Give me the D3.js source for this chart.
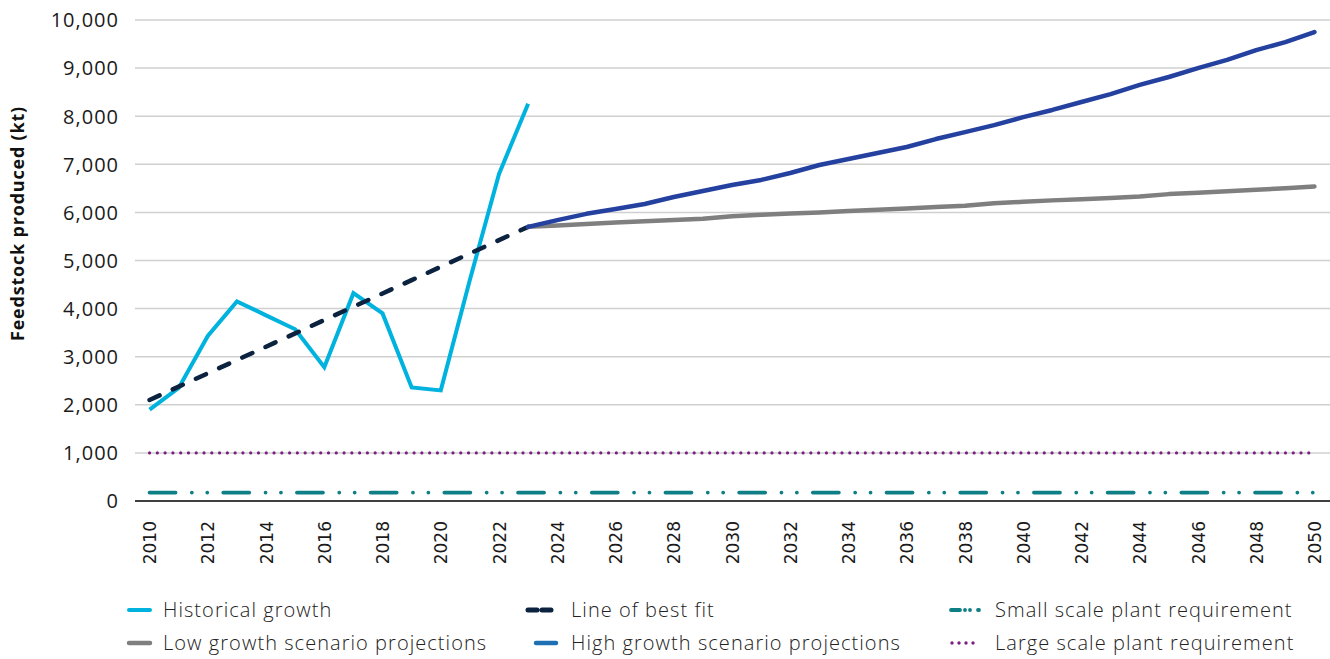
<!DOCTYPE html>
<html>
<head>
<meta charset="utf-8">
<script src="https://cdn.jsdelivr.net/npm/d3@7"></script>
<style>
  body { margin: 0; background: #fff; }
  svg { display: block; }
</style>
</head>
<body>
<svg id="chart" width="1330" height="659"></svg>
<script>
// ---------- DATA ----------
const years = d3.range(2010, 2051);
const yTicks = [0, 1000, 2000, 3000, 4000, 5000, 6000, 7000, 8000, 9000, 10000];
const xTickYears = d3.range(2010, 2051, 2);

const historicalYears = [2010, 2011, 2012, 2013, 2014, 2015, 2016, 2017, 2018, 2019, 2020, 2021, 2022, 2023];
const historicalValues = [1900, 2350, 3430, 4150, 3860, 3570, 2780, 4320, 3900, 2360, 2300, 4600, 6800, 8260];

const bestFitYears = [2010, 2011, 2012, 2013, 2014, 2015, 2016, 2017, 2018, 2019, 2020, 2021, 2022, 2023];
const bestFitValues = [2100, 2377, 2654, 2931, 3208, 3485, 3762, 4038, 4315, 4592, 4869, 5146, 5423, 5700];

const projYears = d3.range(2023, 2051);
const lowGrowthValues = [5700, 5730, 5760, 5790, 5815, 5840, 5870, 5920, 5950, 5975, 6000, 6030, 6055, 6080,
  6110, 6140, 6190, 6220, 6250, 6275, 6300, 6330, 6380, 6410, 6440, 6470, 6500, 6540];
const highGrowthValues = [5700, 5840, 5970, 6070, 6175, 6320, 6445, 6570, 6675, 6820, 6985, 7110, 7235, 7360,
  7525, 7670, 7815, 7980, 8130, 8295, 8460, 8650, 8815, 9000, 9170, 9375, 9540, 9750];

const smallScaleValue = 175;
const largeScaleValue = 1000;

const legendLabels = [
  "Historical growth", "Line of best fit", "Small scale plant requirement",
  "Low growth scenario projections", "High growth scenario projections", "Large scale plant requirement"
];

// ---------- STYLES ----------
const C = {
  hist: "#00B2DE", fit: "#0C2340", high: "#2541A0", highLegend: "#1F6FB4", low: "#7F7F7F",
  small: "#0F7F86", large: "#7A2180", grid: "#D0D0D0"
};

const svg = d3.select("#chart");
const mLeft = 135, mRight = 1329, mTop = 20, mBottom = 501;

const x = d3.scalePoint().domain(years).range([mLeft, mRight]).padding(0.5);
const y = d3.scaleLinear().domain([0, 10000]).range([mBottom, mTop]);

// gridlines
svg.append("g").selectAll("line").data(yTicks.filter(d => d > 0)).join("line")
  .attr("x1", mLeft).attr("x2", 1330)
  .attr("y1", d => y(d)).attr("y2", d => y(d))
  .attr("stroke", C.grid).attr("stroke-width", 1.5);

// y axis labels
const yAxis = d3.axisLeft(y).tickValues(yTicks).tickFormat(d3.format(",")).tickSize(0).tickPadding(0);
const gy = svg.append("g").attr("transform", `translate(${119},0)`).call(yAxis);
gy.select(".domain").remove();
gy.selectAll("text").attr("font-family", "'Open Sans', sans-serif").attr("font-size", 20)
  .attr("letter-spacing", 1).attr("fill", "#1a1a1a").attr("dy", "0.34em");

// x axis
const xAxis = d3.axisBottom(x).tickValues(xTickYears).tickSize(0).tickPadding(0);
const gx = svg.append("g").attr("transform", `translate(0,${mBottom})`).call(xAxis);
gx.select(".domain").remove();
gx.selectAll("text")
  .attr("font-family", "'DejaVu Sans', sans-serif").attr("font-size", 17).attr("fill", "#1a1a1a")
  .attr("transform", "rotate(-90)")
  .attr("text-anchor", "end")
  .attr("x", -20).attr("y", 0).attr("dy", "0.36em");

// axis baseline
svg.append("line").attr("x1", mLeft).attr("x2", 1330).attr("y1", y(0)).attr("y2", y(0))
  .attr("stroke", "#000").attr("stroke-width", 1.5);

// y axis title
svg.append("text")
  .attr("transform", `translate(24,${(mTop + mBottom) / 2 - 37}) rotate(-90)`)
  .attr("text-anchor", "middle")
  .attr("font-family", "'Open Sans', sans-serif").attr("font-size", 18).attr("font-weight", 700)
  .attr("letter-spacing", 0.8)
  .attr("fill", "#111")
  .text("Feedstock produced (kt)");

const line = d3.line().x(d => x(d[0])).y(d => y(d[1]));

// large scale (purple dotted)
svg.append("path")
  .attr("d", line(years.map(yr => [yr, largeScaleValue])))
  .attr("fill", "none").attr("stroke", C.large).attr("stroke-width", 3.2)
  .attr("stroke-linecap", "round").attr("stroke-dasharray", "0,7.78");

// small scale (teal dash-dot-dot)
svg.append("path")
  .attr("d", line(years.map(yr => [yr, smallScaleValue])))
  .attr("fill", "none").attr("stroke", C.small).attr("stroke-width", 3.8)
  .attr("stroke-linecap", "round").attr("stroke-dasharray", "26,16.3,0,15.4,0,16");

// historical
svg.append("path")
  .attr("d", line(historicalYears.map((yr, i) => [yr, historicalValues[i]])))
  .attr("fill", "none").attr("stroke", C.hist).attr("stroke-width", 4)
  .attr("stroke-linejoin", "miter");

// best fit
svg.append("path")
  .attr("d", line(bestFitYears.map((yr, i) => [yr, bestFitValues[i]])))
  .attr("fill", "none").attr("stroke", C.fit).attr("stroke-width", 4.5)
  .attr("stroke-linecap", "round").attr("stroke-dasharray", "11,14.5");

// low growth
svg.append("path")
  .attr("d", line(projYears.map((yr, i) => [yr, lowGrowthValues[i]])))
  .attr("fill", "none").attr("stroke", C.low).attr("stroke-width", 4.5)
  .attr("stroke-linecap", "round").attr("stroke-linejoin", "round");

// high growth
svg.append("path")
  .attr("d", line(projYears.map((yr, i) => [yr, highGrowthValues[i]])))
  .attr("fill", "none").attr("stroke", C.high).attr("stroke-width", 4.5)
  .attr("stroke-linecap", "round").attr("stroke-linejoin", "round");

// ---------- LEGEND ----------
const legendItems = [
  { label: legendLabels[0], color: C.hist, dash: null, width: 4, cap: "round", sx: 129, sw: 21, tx: 163, ty: 610 },
  { label: legendLabels[1], color: C.fit, dash: "9,5", width: 5, cap: "round", sx: 528, sw: 28, tx: 571, ty: 610 },
  { label: legendLabels[2], color: C.small, dash: "9,5,0,5,0,8", width: 3.8, cap: "round", sx: 951, sw: 28, tx: 995, ty: 610 },
  { label: legendLabels[3], color: C.low, dash: null, width: 4.5, cap: "round", sx: 129, sw: 21, tx: 163, ty: 643 },
  { label: legendLabels[4], color: C.highLegend, dash: null, width: 4.5, cap: "round", sx: 536, sw: 20, tx: 571, ty: 643 },
  { label: legendLabels[5], color: C.large, dash: "0,7", width: 3.4, cap: "round", sx: 952, sw: 23, tx: 995, ty: 643 }
];

const lg = svg.append("g");
const li = lg.selectAll("g").data(legendItems).join("g");
li.append("line")
  .attr("x1", d => d.sx).attr("x2", d => d.sx + d.sw)
  .attr("y1", d => d.ty).attr("y2", d => d.ty)
  .attr("stroke", d => d.color).attr("stroke-width", d => d.width)
  .attr("stroke-linecap", d => d.cap)
  .attr("stroke-dasharray", d => d.dash);
li.append("text")
  .attr("x", d => d.tx).attr("y", d => d.ty).attr("dy", "0.35em")
  .attr("font-family", "'Open Sans', sans-serif").attr("font-size", 20).attr("font-weight", 300)
  .attr("letter-spacing", 1.05)
  .attr("fill", "#222")
  .text(d => d.label);
</script>
</body>
</html>
